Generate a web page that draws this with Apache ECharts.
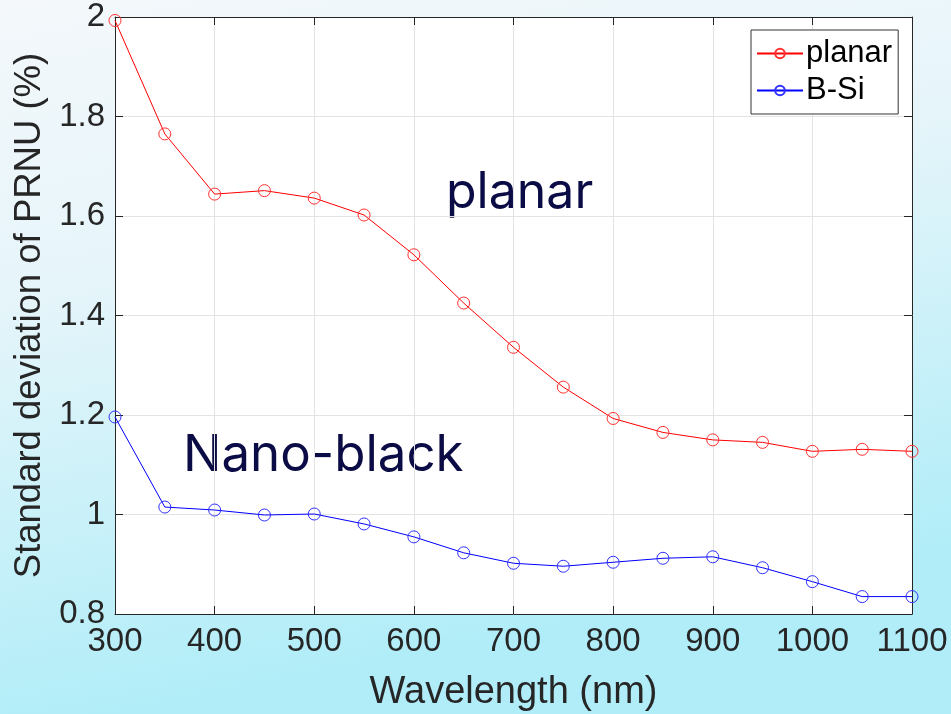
<!DOCTYPE html>
<html>
<head>
<meta charset="utf-8">
<script src="https://cdn.jsdelivr.net/npm/echarts@6/dist/echarts.min.js"></script>
<style>
html,body{margin:0;padding:0;}
#c{width:951px;height:714px;}
</style>
</head>
<body>
<div id="c"></div>
<script>
const wavelengths = [300,350,400,450,500,550,600,650,700,750,800,850,900,950,1000,1050,1100];
const planar = [1.993,1.765,1.644,1.651,1.636,1.602,1.522,1.425,1.336,1.256,1.193,1.165,1.150,1.145,1.127,1.131,1.127];
const bsi = [1.196,1.015,1.009,0.999,1.001,0.981,0.955,0.923,0.902,0.896,0.904,0.912,0.915,0.893,0.865,0.835,0.835];
const xTicks = [300,400,500,600,700,800,900,1000,1100];
const yTicks = [0.8,1,1.2,1.4,1.6,1.8,2];

const chart = echarts.init(document.getElementById('c'));
const font = 'Liberation Sans, Arial, sans-serif';
const axisCol = '#262626';
const pair = a => wavelengths.map((w,i)=>[w,a[i]]);

chart.setOption({
  backgroundColor: new echarts.graphic.LinearGradient(0,0,0.15,1,[
    {offset:0,color:'#f4f8fb'},
    {offset:0.4,color:'#e6f5fa'},
    {offset:1,color:'#b0edf8'}
  ]),
  animation:false,
  grid:{left:115,top:17,width:797,height:597,show:true,backgroundColor:'#ffffff',borderWidth:0,
        containLabel:false,outerBoundsMode:'none'},
  legend:{
    orient:'vertical',left:751,top:30,
    padding:[8,6,8,5],itemGap:6,itemWidth:46,itemHeight:12,
    borderColor:'#333',borderWidth:1,backgroundColor:'#fff',
    textStyle:{fontFamily:font,fontSize:31,color:'#000',padding:[0,0,0,-2]},
    data:['planar','B-Si']
  },
  xAxis:[{
    type:'value',min:xTicks[0],max:xTicks[xTicks.length-1],interval:100,
    name:'Wavelength (nm)',nameLocation:'middle',nameGap:60,
    nameTextStyle:{fontFamily:font,fontSize:38,color:axisCol},
    axisLine:{show:true,lineStyle:{color:axisCol,width:1}},
    axisTick:{show:true,inside:true,length:8,lineStyle:{color:axisCol}},
    axisLabel:{fontFamily:font,fontSize:33,color:axisCol,margin:11,formatter:v=>String(v)},
    splitLine:{show:true,lineStyle:{color:'#e3e3e3'}}
  },{
    type:'value',position:'top',min:300,max:1100,interval:100,
    axisLine:{show:true,onZero:false,lineStyle:{color:axisCol,width:1}},
    axisTick:{show:true,inside:true,length:8,lineStyle:{color:axisCol}},
    axisLabel:{show:false},splitLine:{show:false}
  }],
  yAxis:[{
    type:'value',min:yTicks[0],max:yTicks[yTicks.length-1],interval:0.2,
    name:'Standard deviation of PRNU (%)',nameLocation:'middle',nameGap:66,
    nameTextStyle:{fontFamily:font,fontSize:36.5,color:axisCol},
    axisLine:{show:true,lineStyle:{color:axisCol,width:1}},
    axisTick:{show:true,inside:true,length:8,lineStyle:{color:axisCol}},
    axisLabel:{fontFamily:font,fontSize:33,color:axisCol,margin:10,
      formatter:v=>String(Math.round(v*10)/10)},
    splitLine:{show:true,lineStyle:{color:'#e3e3e3'}}
  },{
    type:'value',position:'right',min:0.8,max:2,interval:0.2,
    axisLine:{show:true,onZero:false,lineStyle:{color:axisCol,width:1}},
    axisTick:{show:true,inside:true,length:8,lineStyle:{color:axisCol}},
    axisLabel:{show:false},splitLine:{show:false}
  }],
  series:[{
    name:'planar',type:'line',data:pair(planar),
    symbol:'circle',symbolSize:12,
    lineStyle:{color:'#ff0000',width:1},
    itemStyle:{color:'rgba(255,255,255,0)',borderColor:'#ff3030',borderWidth:1},
    z:3
  },{
    name:'B-Si',type:'line',data:pair(bsi),
    symbol:'circle',symbolSize:12,
    lineStyle:{color:'#0000ff',width:1},
    itemStyle:{color:'rgba(255,255,255,0)',borderColor:'#3030ff',borderWidth:1},
    z:3
  }],
  graphic:[
    {type:'text',left:446,top:168,style:{text:'planar',font:'400 50px Inter, sans-serif',fill:'#0b0b45'}},
    {type:'text',left:183,top:430,style:{text:'Nano-black',font:'400 51px Inter, sans-serif',fill:'#0b0b45'}}
  ]
});
</script>
</body>
</html>
